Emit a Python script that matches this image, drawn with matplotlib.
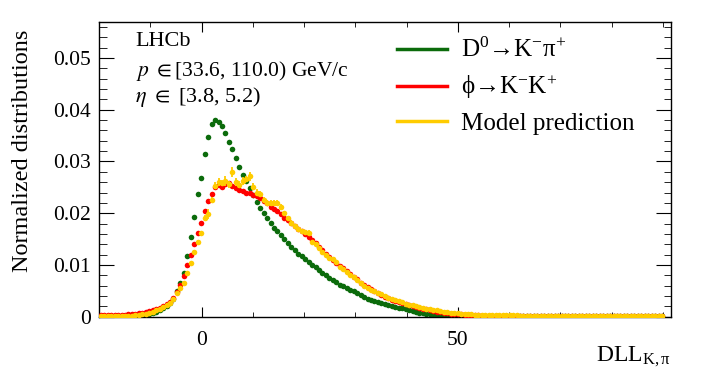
import matplotlib
matplotlib.use('Agg')
import matplotlib.pyplot as plt
import numpy as np
from matplotlib.ticker import MultipleLocator
from matplotlib.lines import Line2D

plt.rcParams['font.family'] = ['Liberation Serif', 'DejaVu Serif']
plt.rcParams['mathtext.fontset'] = 'stix'
plt.rcParams['mathtext.default'] = 'regular'

# histogram binning of DLL_K,pi
bin_lo = -20.0
bin_hi = 91.5
n_bins = 165

# normalized distributions, one value per bin (bins 0..162)
d0_kpi = [
    0.0001, 0.0001, 0.0001, 0.0001, 0.0001, 0.0002, 0.0002, 0.0002, 0.0002, 0.0003,
    0.0003, 0.0003, 0.0004, 0.0005, 0.0006, 0.0008, 0.0010, 0.0012, 0.0016, 0.0020,
    0.0026, 0.0035, 0.0050, 0.0065, 0.0085, 0.0117, 0.0155, 0.0193, 0.0237, 0.0268,
    0.0315, 0.0347, 0.0373, 0.0380, 0.0377, 0.0369, 0.0355, 0.0337, 0.0324, 0.0306,
    0.0289, 0.0273, 0.0262, 0.0249, 0.0236, 0.0222, 0.0210, 0.0201, 0.0191, 0.0182,
    0.0172, 0.0166, 0.0158, 0.0150, 0.0142, 0.0135, 0.0128, 0.0122, 0.0117, 0.0112,
    0.0106, 0.0100, 0.0096, 0.0091, 0.0085, 0.0080, 0.0075, 0.0071, 0.0067, 0.0062,
    0.0059, 0.0055, 0.0051, 0.0049, 0.0045, 0.0041, 0.0038, 0.0035, 0.0033, 0.0031,
    0.0028, 0.0026, 0.0024, 0.0022, 0.0021, 0.0019, 0.0017, 0.0016, 0.0014, 0.0012,
    0.0011, 0.0010, 0.0008, 0.0007, 0.0006, 0.0005, 0.0005, 0.0004, 0.0003, 0.0003,
    0.0002, 0.0002, 0.0002, 0.0002, 0.0002, 0.0002, 0.0001, 0.0001, 0.0001, 0.0001,
    0.0001, 0.0001, 0.0001, 0.0001, 0.0001, 0.0001, 0.0001, 0.0001, 0.0001, 0.0001,
    0.0001, 0.0001, 0.0001, 0.0001, 0.0001, 0.0001, 0.0001, 0.0001, 0.0001, 0.0001,
    0.0001, 0.0001, 0.0001, 0.0001, 0.0001, 0.0001, 0.0001, 0.0001, 0.0001, 0.0001,
    0.0001, 0.0001, 0.0001, 0.0001, 0.0001, 0.0001, 0.0001, 0.0001, 0.0001, 0.0001,
    0.0001, 0.0001, 0.0001, 0.0001, 0.0001, 0.0001, 0.0001, 0.0001, 0.0001, 0.0001,
    0.0001, 0.0001, 0.0001,
]

phi_kk = [
    0.0003, 0.0003, 0.0003, 0.0003, 0.0004, 0.0004, 0.0004, 0.0004, 0.0005, 0.0005,
    0.0006, 0.0007, 0.0008, 0.0009, 0.0011, 0.0013, 0.0015, 0.0017, 0.0020, 0.0024,
    0.0029, 0.0036, 0.0047, 0.0061, 0.0078, 0.0099, 0.0119, 0.0140, 0.0162, 0.0181,
    0.0204, 0.0224, 0.0237, 0.0251, 0.0255, 0.0250, 0.0257, 0.0258, 0.0253, 0.0248,
    0.0245, 0.0243, 0.0240, 0.0239, 0.0236, 0.0233, 0.0229, 0.0224, 0.0219, 0.0212,
    0.0208, 0.0204, 0.0199, 0.0191, 0.0186, 0.0181, 0.0175, 0.0170, 0.0165, 0.0160,
    0.0154, 0.0148, 0.0142, 0.0135, 0.0128, 0.0122, 0.0115, 0.0110, 0.0104, 0.0098,
    0.0094, 0.0088, 0.0082, 0.0077, 0.0072, 0.0066, 0.0061, 0.0057, 0.0053, 0.0050,
    0.0046, 0.0042, 0.0039, 0.0036, 0.0033, 0.0031, 0.0029, 0.0027, 0.0024, 0.0022,
    0.0020, 0.0018, 0.0016, 0.0015, 0.0014, 0.0012, 0.0011, 0.0010, 0.0009, 0.0008,
    0.0007, 0.0006, 0.0006, 0.0005, 0.0005, 0.0004, 0.0004, 0.0003, 0.0003, 0.0003,
    0.0002, 0.0002, 0.0002, 0.0002, 0.0002, 0.0002, 0.0002, 0.0002, 0.0002, 0.0002,
    0.0001, 0.0001, 0.0001, 0.0001, 0.0001, 0.0001, 0.0001, 0.0001, 0.0001, 0.0001,
    0.0001, 0.0001, 0.0001, 0.0001, 0.0001, 0.0001, 0.0001, 0.0001, 0.0001, 0.0001,
    0.0001, 0.0001, 0.0001, 0.0001, 0.0001, 0.0001, 0.0001, 0.0001, 0.0001, 0.0001,
    0.0001, 0.0001, 0.0001, 0.0001, 0.0001, 0.0001, 0.0001, 0.0001, 0.0001, 0.0001,
    0.0001, 0.0001, 0.0001,
]

model = [
    0.0002, 0.0002, 0.0002, 0.0002, 0.0002, 0.0002, 0.0002, 0.0002, 0.0002, 0.0002,
    0.0003, 0.0004, 0.0005, 0.0006, 0.0008, 0.0010, 0.0012, 0.0015, 0.0018, 0.0022,
    0.0027, 0.0034, 0.0045, 0.0055, 0.0066, 0.0084, 0.0103, 0.0126, 0.0145, 0.0161,
    0.0190, 0.0198, 0.0225, 0.0253, 0.0261, 0.0258, 0.0262, 0.0256, 0.0280, 0.0260,
    0.0255, 0.0262, 0.0266, 0.0271, 0.0251, 0.0240, 0.0237, 0.0226, 0.0220, 0.0219,
    0.0220, 0.0219, 0.0212, 0.0200, 0.0190, 0.0182, 0.0176, 0.0170, 0.0166, 0.0164,
    0.0162, 0.0145, 0.0140, 0.0132, 0.0126, 0.0120, 0.0113, 0.0112, 0.0105, 0.0097,
    0.0092, 0.0086, 0.0081, 0.0076, 0.0070, 0.0065, 0.0060, 0.0056, 0.0052, 0.0049,
    0.0046, 0.0043, 0.0040, 0.0037, 0.0034, 0.0032, 0.0030, 0.0028, 0.0025, 0.0023,
    0.0022, 0.0020, 0.0018, 0.0017, 0.0015, 0.0014, 0.0013, 0.0012, 0.0011, 0.0010,
    0.0009, 0.0008, 0.0008, 0.0007, 0.0006, 0.0006, 0.0005, 0.0005, 0.0004, 0.0004,
    0.0004, 0.0003, 0.0003, 0.0003, 0.0003, 0.0003, 0.0003, 0.0003, 0.0003, 0.0003,
    0.0003, 0.0002, 0.0002, 0.0002, 0.0002, 0.0002, 0.0002, 0.0002, 0.0002, 0.0002,
    0.0002, 0.0002, 0.0002, 0.0002, 0.0002, 0.0002, 0.0002, 0.0002, 0.0002, 0.0002,
    0.0002, 0.0001, 0.0001, 0.0001, 0.0001, 0.0001, 0.0001, 0.0001, 0.0001, 0.0001,
    0.0001, 0.0001, 0.0001, 0.0001, 0.0001, 0.0001, 0.0001, 0.0001, 0.0001, 0.0001,
    0.0001, 0.0001, 0.0001,
]

# model uncertainties around the peak (bins 28..62)
err_first_bin = 28
model_err = [
    0.0004, 0.0005, 0.0006, 0.0010, 0.0006, 0.0007, 0.0008, 0.0006, 0.0009, 0.0007,
    0.0010, 0.0008, 0.0007, 0.0008, 0.0006, 0.0008, 0.0007, 0.0006, 0.0006, 0.0005,
    0.0006, 0.0006, 0.0005, 0.0006, 0.0005, 0.0004, 0.0004, 0.0004, 0.0004, 0.0004,
    0.0004, 0.0004, 0.0005, 0.0004, 0.0003,
]

labels = ['D$^{0}$→K$^{-}$π$^{+}$', 'ϕ→K$^{-}$K$^{+}$', 'Model prediction']
colors = ['#0b6b0b', '#ff0000', '#ffcc00']

width = (bin_hi - bin_lo) / n_bins
centers = bin_lo + width * (np.arange(len(d0_kpi)) + 0.5)
yerr = np.zeros(len(model))
yerr[err_first_bin:err_first_bin + len(model_err)] = model_err

fig = plt.figure(figsize=(7.06, 3.77), dpi=100)
ax = fig.add_axes([99/706, 1 - 316.7/377, (670.7-99)/706, (316.7-22.3)/377])

ms = 4.0
ax.plot(centers, d0_kpi, 'o', color=colors[0], ms=ms, mew=0, zorder=2)
ax.plot(centers, phi_kk, 'o', color=colors[1], ms=ms, mew=0, zorder=3)
ax.errorbar(centers, model, yerr=yerr, fmt='o', color=colors[2], ms=ms, mew=0,
            elinewidth=1.3, capsize=0, zorder=4)

ax.set_xlim(bin_lo, bin_hi)
ax.set_ylim(0, 0.0569)
ax.xaxis.set_major_locator(MultipleLocator(50))
ax.xaxis.set_minor_locator(MultipleLocator(10))
ax.yaxis.set_major_locator(MultipleLocator(0.01))
ax.yaxis.set_minor_locator(MultipleLocator(0.002))
ax.set_yticks([0, 0.01, 0.02, 0.03, 0.04, 0.05])
ax.set_yticklabels(['0', '0.01', '0.02', '0.03', '0.04', '0.05'])

ax.tick_params(which='both', direction='in', top=True, right=True, labelsize=15.5)
ax.tick_params(axis='x', which='major', length=7.2, pad=10)
ax.tick_params(axis='x', which='minor', length=3.6)
ax.tick_params(axis='y', which='major', length=11, pad=6)
ax.tick_params(axis='y', which='minor', length=5.4)
for s in ax.spines.values():
    s.set_linewidth(1.0)

ax.set_ylabel('Normalized distributions', fontsize=17.5, ha='right')
ax.yaxis.set_label_coords(-0.115, 0.975)
ax.set_xlabel(r'DLL$_{\mathregular{K,π}}$', fontsize=17, ha='right')
ax.xaxis.set_label_coords(1.0, -0.095)

fig.text(135/706, 1 - 42/377, 'LHCb', fontsize=16, va='center', ha='left')
fig.text(136/706, 1 - 71/377, r'$\mathit{p}\ \in$[33.6, 110.0) GeV/c', fontsize=15.5,
         va='center', ha='left')
fig.text(135/706, 1 - 97/377, r'$\mathit{\eta}\ \in$ [3.8, 5.2)', fontsize=16,
         va='center', ha='left')

handles = [Line2D([], [], color=c, lw=2.5) for c in colors]
ax.legend(handles, labels, loc='upper left', bbox_to_anchor=(397/706, 1 - 38/377),
          bbox_transform=fig.transFigure, frameon=False, fontsize=18,
          handlelength=2.0, handletextpad=0.55, labelspacing=0.45,
          borderpad=0, borderaxespad=0)

fig.savefig('out.png', dpi=100)
